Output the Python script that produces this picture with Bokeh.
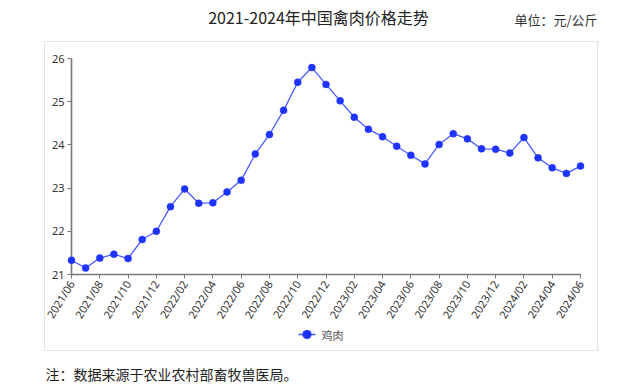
import math
from bokeh.plotting import figure
from bokeh.models import Range1d, FixedTicker
from bokeh.core.properties import value
from bokeh.embed import file_html
from bokeh.resources import INLINE

# ---- data ----
months = ["2021/06", "2021/07", "2021/08", "2021/09", "2021/10", "2021/11", "2021/12",
          "2022/01", "2022/02", "2022/03", "2022/04", "2022/05", "2022/06",
          "2022/07", "2022/08", "2022/09", "2022/10", "2022/11", "2022/12",
          "2023/01", "2023/02", "2023/03", "2023/04", "2023/05", "2023/06",
          "2023/07", "2023/08", "2023/09", "2023/10", "2023/11", "2023/12",
          "2024/01", "2024/02", "2024/03", "2024/04", "2024/05", "2024/06"]
chicken_price = [21.33, 21.15, 21.38, 21.47, 21.37, 21.81, 22.00,
                 22.57, 22.98, 22.65, 22.66, 22.91, 23.18,
                 23.79, 24.24, 24.80, 25.45, 25.79, 25.40,
                 25.02, 24.64, 24.36, 24.19, 23.97, 23.76,
                 23.56, 24.01, 24.26, 24.14, 23.91, 23.90,
                 23.81, 24.17, 23.70, 23.47, 23.34, 23.51]
y_ticks = [21, 22, 23, 24, 25, 26]
series_name = "鸡肉"
title_text = "2021-2024年中国禽肉价格走势"
unit_text = "单位：元/公斤"
note_text = "注：数据来源于农业农村部畜牧兽医局。"

CJK = "Noto Sans CJK SC"
LINE_COLOR = "#4a5bff"
DOT_COLOR = "#1f33ff"

W, H = 639, 388
FL, FR, FT, FB = 71, 580, 58, 274   # frame edges in pixels

x_idx = list(range(len(months)))

p = figure(width=W, height=H, output_backend="svg", toolbar_location=None,
           x_range=Range1d(0, len(months) - 1), y_range=Range1d(min(y_ticks), max(y_ticks)),
           min_border_left=FL, min_border_right=W - FR, min_border_top=FT, min_border_bottom=H - FB)
p.title.visible = False
p.outline_line_color = None
p.xgrid.visible = False
p.ygrid.visible = False
p.background_fill_color = None

# pixel-space ranges for decorations (title, note, legend, panel border)
p.extra_x_ranges["px"] = Range1d(FL, FR)
p.extra_y_ranges["py"] = Range1d(FB, FT)
PX = dict(x_range_name="px", y_range_name="py", level="overlay")

line_r = p.line(x_idx, chicken_price, line_color=LINE_COLOR, line_width=1.3, level="overlay")
dot_r = p.scatter(x_idx, chicken_price, size=7, fill_color=DOT_COLOR, line_color=DOT_COLOR,
                  line_width=0.5, level="overlay")

# axes
for ax in (p.xaxis[0], p.yaxis[0]):
    ax.axis_line_color = "#777777"
    ax.axis_line_width = 1.6
    ax.major_tick_line_color = "#777777"
    ax.major_tick_in = 0
    ax.major_tick_out = 4
    ax.minor_tick_line_color = None
    ax.major_label_text_color = "#333333"
    ax.major_label_text_font = "Noto Sans"
    ax.major_label_text_font_size = "11px"

p.yaxis.ticker = FixedTicker(ticks=y_ticks)
p.yaxis.major_label_standoff = 3
p.xaxis.ticker = FixedTicker(ticks=x_idx[::2])
p.xaxis.major_label_overrides = {i: months[i] for i in x_idx[::2]}
p.xaxis.major_label_orientation = math.radians(58)
p.xaxis.major_label_standoff = 3

# panel border
p.quad(left=[44], right=[597], top=[41], bottom=[350], fill_color=None,
       line_color="#e3e3e3", line_width=1, **PX)

# texts
p.text(x=[318], y=[16], text=[title_text], text_font=value(CJK), text_font_size="16px",
       text_color="#222222", text_align="center", text_baseline="middle", **PX)
p.text(x=[597], y=[19], text=[unit_text], text_font=value(CJK), text_font_size="13px",
       text_color="#333333", text_align="right", text_baseline="middle", **PX)
p.text(x=[45], y=[373], text=[note_text], text_font=value(CJK), text_font_size="14px",
       text_color="#222222", text_align="left", text_baseline="middle", **PX)

# legend (drawn manually, below the axis)
p.line(x=[298, 315], y=[334, 334], line_color=LINE_COLOR, line_width=1.5, **PX)
p.line(x=[306.4, 306.6], y=[334, 334], line_color=DOT_COLOR, line_width=9, line_cap="round", **PX)
p.text(x=[321], y=[334], text=[series_name], text_font=value(CJK), text_font_size="11px",
       text_color="#555555", text_align="left", text_baseline="middle", **PX)

open("out.html", "w").write(file_html(p, INLINE))
